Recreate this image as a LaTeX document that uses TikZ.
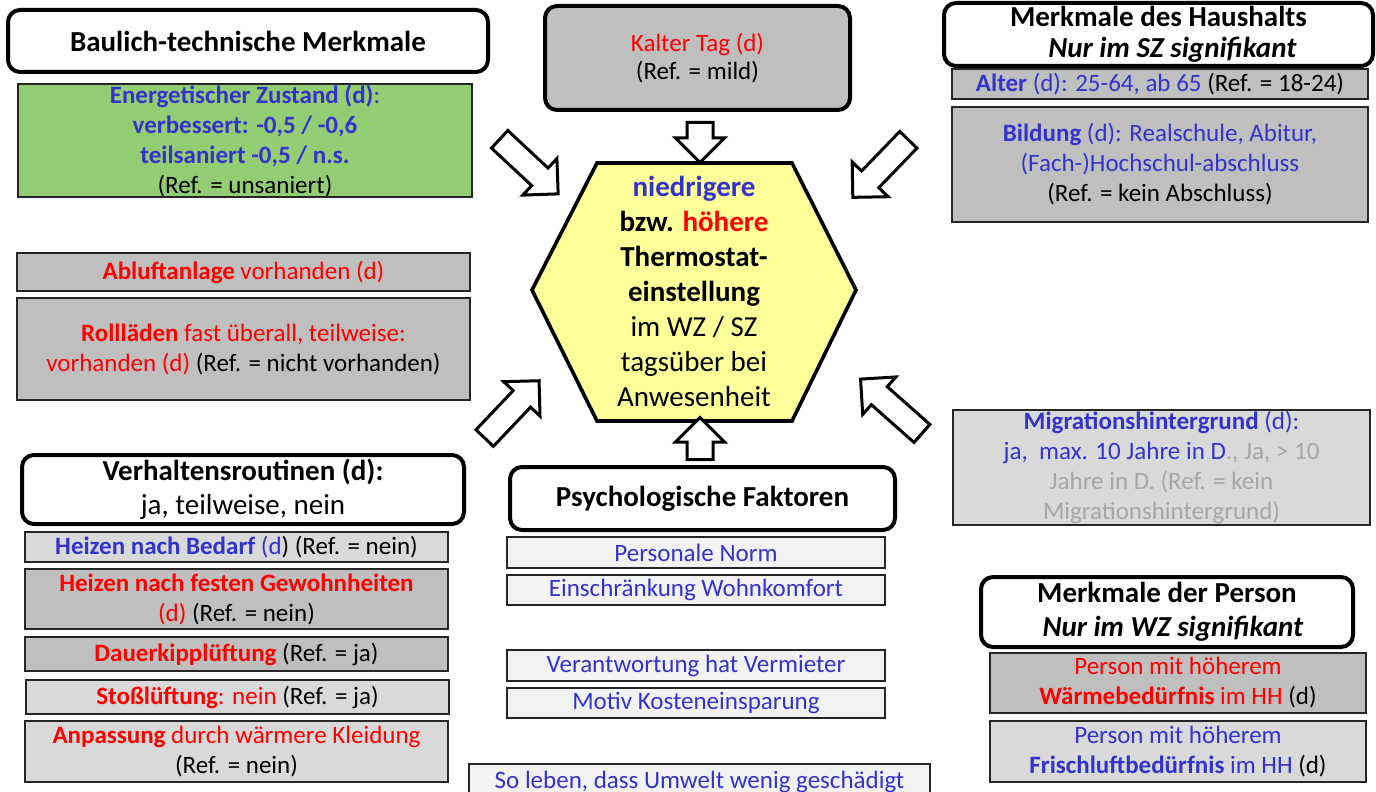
\documentclass[tikz,border=0pt]{standalone}
\usepackage{fontspec}
\setmainfont{Carlito}
\usetikzlibrary{shapes.arrows, positioning}
\definecolor{boxgray}{HTML}{BFBFBF}
\definecolor{boxlight}{HTML}{D9D9D9}
\definecolor{boxpale}{HTML}{F2F2F2}
\definecolor{boxgreen}{HTML}{92CD74}
\definecolor{hexyellow}{HTML}{FFFF99}
\definecolor{txtblue}{HTML}{3333CC}
\definecolor{txtred}{HTML}{FF0000}
\definecolor{txtgray}{HTML}{A6A6A6}
\tikzset{
  header/.style={draw=black, line width=2pt, rounded corners=6pt, fill=white, align=center,
    inner sep=0pt, font=\fontsize{14.5}{15.5}\selectfont\bfseries},
  factor/.style={draw=black!85, line width=0.9pt, align=center, inner sep=0pt,
    font=\fontsize{12.5}{15}\selectfont},
  blockarrow/.style={single arrow, draw=black, line width=1.5pt, fill=white,
    inner xsep=0pt, inner ysep=5.25pt, minimum width=0pt,
    single arrow tip angle=90, single arrow head extend=6.5pt},
  hexshape/.style={draw=black, line width=1.8pt, fill=hexyellow, line join=miter},
}
\begin{document}
\begin{tikzpicture}[x=0.5pt, y=-0.5pt]
\useasboundingbox (0,0) rectangle (1376,792);
\clip (0,0) rectangle (1376,792);
\fill[white] (0,0) rectangle (1376,792);

% Centre: thermostat setting
\draw[hexshape] (597,163) -- (792,163) -- (856,290) -- (792,421) -- (597,421) -- (532,290) -- cycle;
\node[align=center, font=\fontsize{14.5}{17.5}\selectfont] (hex) at (694,291)
  {\textcolor{txtblue}{\textbf{niedrigere}}\\ \textbf{bzw. \textcolor{txtred}{höhere}}\\
   \textbf{Thermostat-}\\ \textbf{einstellung}\\ im WZ / SZ\\ tagsüber bei\\ Anwesenheit};

% Headers
\node[header, minimum width=240pt, minimum height=31pt] (bau) at (248,41) {Baulich-technische Merkmale};
\node[header, fill=boxgray, font=\fontsize{12.5}{14}\selectfont, minimum width=152.5pt, minimum height=52pt]
  (kalt) at (697.5,58) {\textcolor{txtred}{Kalter Tag (d)}\\ (Ref. = mild)};
\node[header, minimum width=214.5pt, minimum height=31.5pt] (haus) at (1158.5,34.5)
  {Merkmale des Haushalts\\ \hspace*{14pt}\textit{Nur im SZ signifikant}};
\node[header, font=\fontsize{14.5}{17}\selectfont\bfseries, minimum width=221pt, minimum height=34.5pt]
  (verh) at (243,489.5) {Verhaltensroutinen (d):\\ \mdseries ja, teilweise, nein};
\node[header, minimum width=192.5pt, minimum height=31.5pt] (psych) at (702.5,498.5) {Psychologische Faktoren};
\node[header, font=\fontsize{14.5}{17}\selectfont\bfseries, minimum width=186pt, minimum height=35pt]
  (pers) at (1167,612) {Merkmale der Person\\ \hspace*{6pt}\textit{Nur im WZ signifikant}};

% Baulich-technische Merkmale
\node[factor, fill=boxgreen, text=txtblue, minimum width=227pt, minimum height=56.5pt] (energ) at (245,140.5)
  {\textbf{Energetischer Zustand (d)}:\\ \textbf{verbessert: -0,5 / -0,6}\\ \textbf{teilsaniert -0,5 / n.s.}\\
   \textcolor{black}{(Ref. = unsaniert)}};
\node[factor, fill=boxgray, text=txtred, minimum width=226.5pt, minimum height=19pt] (abluft) at (243.5,272)
  {\textbf{Abluftanlage} vorhanden (d)};
\node[factor, fill=boxgray, text=txtred, minimum width=226.5pt, minimum height=51pt] (roll) at (243.5,349)
  {\textbf{Rollläden} fast überall, teilweise:\\ vorhanden (d) \textcolor{black}{(Ref. = nicht vorhanden)}};

% Merkmale des Haushalts
\node[factor, fill=boxgray, text=txtblue, minimum width=208pt, minimum height=15pt] (alter) at (1160,84)
  {\textbf{Alter} (d): 25-64, ab 65 \textcolor{black}{(Ref. = 18-24)}};
\node[factor, fill=boxgray, text=txtblue, minimum width=208pt, minimum height=57.5pt] (bild) at (1160,164.5)
  {\textbf{Bildung} (d): Realschule, Abitur,\\ (Fach-)Hochschul-abschluss\\ \textcolor{black}{(Ref. = kein Abschluss)}};
\node[factor, fill=boxlight, text=txtgray, minimum width=208.5pt, minimum height=57.5pt] (migr) at (1161.5,467.5)
  {\textcolor{txtblue}{\textbf{Migrationshintergrund} (d):}\\ \textcolor{txtblue}{ja,~ max. 10 Jahre in D}., Ja, > 10\\
   Jahre in D. (Ref. = kein\\ Migrationshintergrund)};

% Verhaltensroutinen
\node[factor, fill=boxlight, minimum width=211.5pt, minimum height=15pt] (bedarf) at (236.5,547)
  {\textcolor{txtblue}{\textbf{Heizen nach Bedarf} (d}) (Ref. = nein)};
\node[factor, fill=boxgray, minimum width=211.5pt, minimum height=30pt] (gewohn) at (236.5,599)
  {\textcolor{txtred}{\textbf{Heizen nach festen Gewohnheiten}}\\ \textcolor{txtred}{(d)} (Ref. = nein)};
\node[factor, fill=boxgray, minimum width=211.5pt, minimum height=17pt] (kipp) at (236.5,654)
  {\textcolor{txtred}{\textbf{Dauerkipplüftung}} (Ref. = ja)};
\node[factor, fill=boxlight, minimum width=211.5pt, minimum height=17pt] (stoss) at (237.5,697)
  {\textcolor{txtred}{\textbf{Stoßlüftung}: nein} (Ref. = ja)};
\node[factor, fill=boxlight, minimum width=211.5pt, minimum height=30.5pt] (kleid) at (236.5,751.5)
  {\textcolor{txtred}{\textbf{Anpassung} durch wärmere Kleidung}\\ (Ref. = nein)};

% Psychologische Faktoren
\node[factor, fill=boxpale, text=txtblue, minimum width=189pt, minimum height=15.5pt] (norm) at (696,552.5) {Personale Norm};
\node[factor, fill=boxpale, text=txtblue, minimum width=189pt, minimum height=15pt] (komfort) at (696,590) {Einschränkung Wohnkomfort};
\node[factor, fill=boxpale, text=txtblue, minimum width=189pt, minimum height=15.5pt] (vermiet) at (696,665.5) {Verantwortung hat Vermieter};
\node[factor, fill=boxpale, text=txtblue, minimum width=189pt, minimum height=15pt] (kosten) at (696,703) {Motiv Kosteneinsparung};
\node[factor, fill=boxpale, text=txtblue, minimum width=230.5pt, minimum height=20.5pt] (umwelt) at (699.5,784.5)
  {\raisebox{5pt}{So leben, dass Umwelt wenig geschädigt}};

% Merkmale der Person
\node[factor, fill=boxgray, text=txtred, minimum width=188pt, minimum height=30pt] (waerme) at (1178,683)
  {Person mit höherem\\ \textbf{Wärmebedürfnis} im HH \textcolor{black}{(d)}};
\node[factor, fill=boxlight, text=txtblue, minimum width=188pt, minimum height=30.5pt] (frisch) at (1178,751.5)
  {Person mit höherem\\ \textbf{Frischluftbedürfnis} im HH \textcolor{black}{(d)}};

% Block arrows towards the centre
\node[blockarrow, minimum height=20pt, inner ysep=5.75pt, single arrow head extend=5.75pt, rotate=-90] (aTop) at (700,136) {};
\node[blockarrow, minimum height=21pt, inner ysep=5.75pt, single arrow head extend=5.75pt, rotate=90] (aBot) at (700,445) {};
\node[blockarrow, minimum height=40pt, rotate=-43] (aUL) at (524.5,162.5) {};
\node[blockarrow, minimum height=40pt, rotate=226] (aUR) at (884.75,164.25) {};
\node[blockarrow, minimum height=39.5pt, rotate=46.5] (aLL) at (507.75,413.75) {};
\node[blockarrow, minimum height=41pt, rotate=138.5] (aLR) at (895.75,410.25) {};
\end{tikzpicture}
\end{document}
